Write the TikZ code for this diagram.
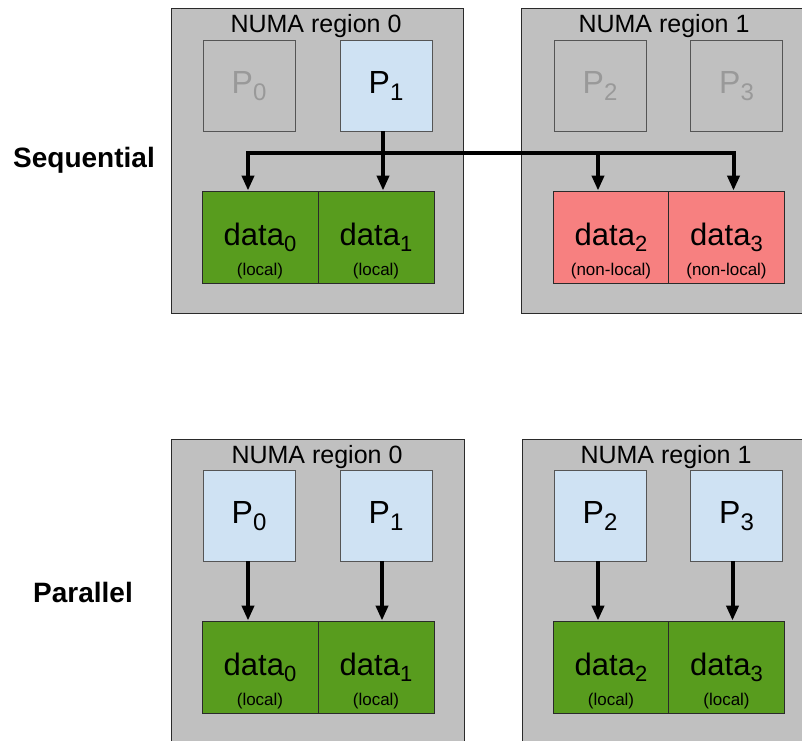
\documentclass[tikz,border=0pt]{standalone}
\usepackage{fontspec}
\setmainfont{Liberation Sans}
\usetikzlibrary{arrows.meta}
\definecolor{regiongray}{HTML}{C0C0C0}
\definecolor{regionborder}{HTML}{2A2A2A}
\definecolor{pborder}{HTML}{555555}
\definecolor{pblue}{HTML}{CFE2F3}
\definecolor{idletext}{HTML}{999999}
\definecolor{localgreen}{HTML}{589C1E}
\definecolor{remotered}{HTML}{F78080}
\newcommand{\fsz}[1]{\fontsize{#1}{#1}\selectfont}
\newcommand{\Plab}[1]{\fsz{32}P\raisebox{-7pt}{\fsz{24}#1}}
\newcommand{\Dlab}[1]{\fsz{31}data\raisebox{-6pt}{\fsz{22}#1}}
\tikzset{
  region/.style={draw=regionborder, fill=regiongray, line width=1pt, anchor=north west, inner sep=0pt},
  rtitle/.style={anchor=base, inner sep=0pt, font=\fsz{25}},
  pbox/.style={draw=pborder, fill=pblue, minimum width=92pt, minimum height=91pt, inner sep=0pt, line width=0.9pt},
  pidle/.style={pbox, fill=regiongray},
  ptext/.style={anchor=base, inner sep=0pt},
  dbox/.style={draw=regionborder, minimum width=116pt, minimum height=92pt, inner sep=0pt, line width=0.9pt},
  dlocal/.style={dbox, fill=localgreen},
  dremote/.style={dbox, fill=remotered},
  dtext/.style={anchor=base, inner sep=0pt},
  dnote/.style={anchor=base, inner sep=0pt, font=\fsz{17}},
  rowlabel/.style={anchor=base, inner sep=0pt, font=\fsz{28}\bfseries},
  arr/.style={line width=4pt, line join=miter, -{Triangle[length=15pt,width=12pt]}},
}
\begin{document}
\begin{tikzpicture}[x=1pt,y=-1pt]
\useasboundingbox (0,0) rectangle (802,740);
\clip (0,0) rectangle (802,740);
\fill[white] (0,0) rectangle (802,740);

% ---------------- Sequential ----------------
\node[rowlabel] (seqlab) at (84,167) {Sequential};

\node[region, minimum width=292pt, minimum height=305pt] (R0s) at (171,8) {};
\node[region, minimum width=300pt, minimum height=305pt] (R1s) at (521,8) {};
\node[rtitle] (T0s) at (316,32) {NUMA region 0};
\node[rtitle] (T1s) at (664,32) {NUMA region 1};

\node[pidle] (P0s) at (249,85.5) {};
\node[pbox]  (P1s) at (386,85.5) {};
\node[pidle] (P2s) at (600,85.5) {};
\node[pidle] (P3s) at (736.5,85.5) {};
\node[ptext, text=idletext] (P0sL) at (249,93) {\Plab{0}};
\node[ptext] (P1sL) at (386,93) {\Plab{1}};
\node[ptext, text=idletext] (P2sL) at (600,93) {\Plab{2}};
\node[ptext, text=idletext] (P3sL) at (736.5,93) {\Plab{3}};

\node[dlocal]  (D0s) at (260,237) {};
\node[dlocal]  (D1s) at (376,237) {};
\node[dremote] (D2s) at (611,237) {};
\node[dremote] (D3s) at (726.5,237) {};
\node[dtext] (D0sL) at (260,245) {\Dlab{0}};
\node[dtext] (D1sL) at (376,245) {\Dlab{1}};
\node[dtext] (D2sL) at (611,245) {\Dlab{2}};
\node[dtext] (D3sL) at (726.5,245) {\Dlab{3}};
\node[dnote] (D0sN) at (260,275) {(local)};
\node[dnote] (D1sN) at (376,275) {(local)};
\node[dnote] (D2sN) at (611,275) {(non-local)};
\node[dnote] (D3sN) at (726.5,275) {(non-local)};

\coordinate (J) at (383,153);
\draw[arr] ([xshift=-3pt]P1s.south) -- ([xshift=-3pt]P1s.south |- D1s.north);
\draw[arr] (J) -| ([xshift=-1pt]D0s.north -| P0s.south);
\draw[arr] (J) -| ([xshift=-3pt]D3s.north -| P3s.south);
\draw[arr] ([xshift=-2pt]J -| P2s.south) -- ([xshift=-2pt]D2s.north -| P2s.south);

% ---------------- Parallel ----------------
\node[rowlabel] (parlab) at (83,602) {Parallel};

\node[region, minimum width=293pt, minimum height=330pt] (R0p) at (171,439) {};
\node[region, minimum width=300pt, minimum height=330pt] (R1p) at (522,439) {};
\node[rtitle] (T0p) at (317,463) {NUMA region 0};
\node[rtitle] (T1p) at (666,463) {NUMA region 1};

\node[pbox] (P0p) at (249,515.5) {};
\node[pbox] (P1p) at (386,515.5) {};
\node[pbox] (P2p) at (600,515.5) {};
\node[pbox] (P3p) at (736.5,515.5) {};
\node[ptext] (P0pL) at (249,523) {\Plab{0}};
\node[ptext] (P1pL) at (386,523) {\Plab{1}};
\node[ptext] (P2pL) at (600,523) {\Plab{2}};
\node[ptext] (P3pL) at (736.5,523) {\Plab{3}};

\node[dlocal] (D0p) at (260,667) {};
\node[dlocal] (D1p) at (376,667) {};
\node[dlocal] (D2p) at (611,667) {};
\node[dlocal] (D3p) at (726.5,667) {};
\node[dtext] (D0pL) at (260,675) {\Dlab{0}};
\node[dtext] (D1pL) at (376,675) {\Dlab{1}};
\node[dtext] (D2pL) at (611,675) {\Dlab{2}};
\node[dtext] (D3pL) at (726.5,675) {\Dlab{3}};
\node[dnote] (D0pN) at (260,705) {(local)};
\node[dnote] (D1pN) at (376,705) {(local)};
\node[dnote] (D2pN) at (611,705) {(local)};
\node[dnote] (D3pN) at (726.5,705) {(local)};

\draw[arr] ([xshift=-1pt]P0p.south) -- ([xshift=-1pt]P0p.south |- D0p.north);
\draw[arr] ([xshift=-4pt]P1p.south) -- ([xshift=-4pt]P1p.south |- D1p.north);
\draw[arr] ([xshift=-2pt]P2p.south) -- ([xshift=-2pt]P2p.south |- D2p.north);
\draw[arr] ([xshift=-4pt]P3p.south) -- ([xshift=-4pt]P3p.south |- D3p.north);
\end{tikzpicture}
\end{document}
